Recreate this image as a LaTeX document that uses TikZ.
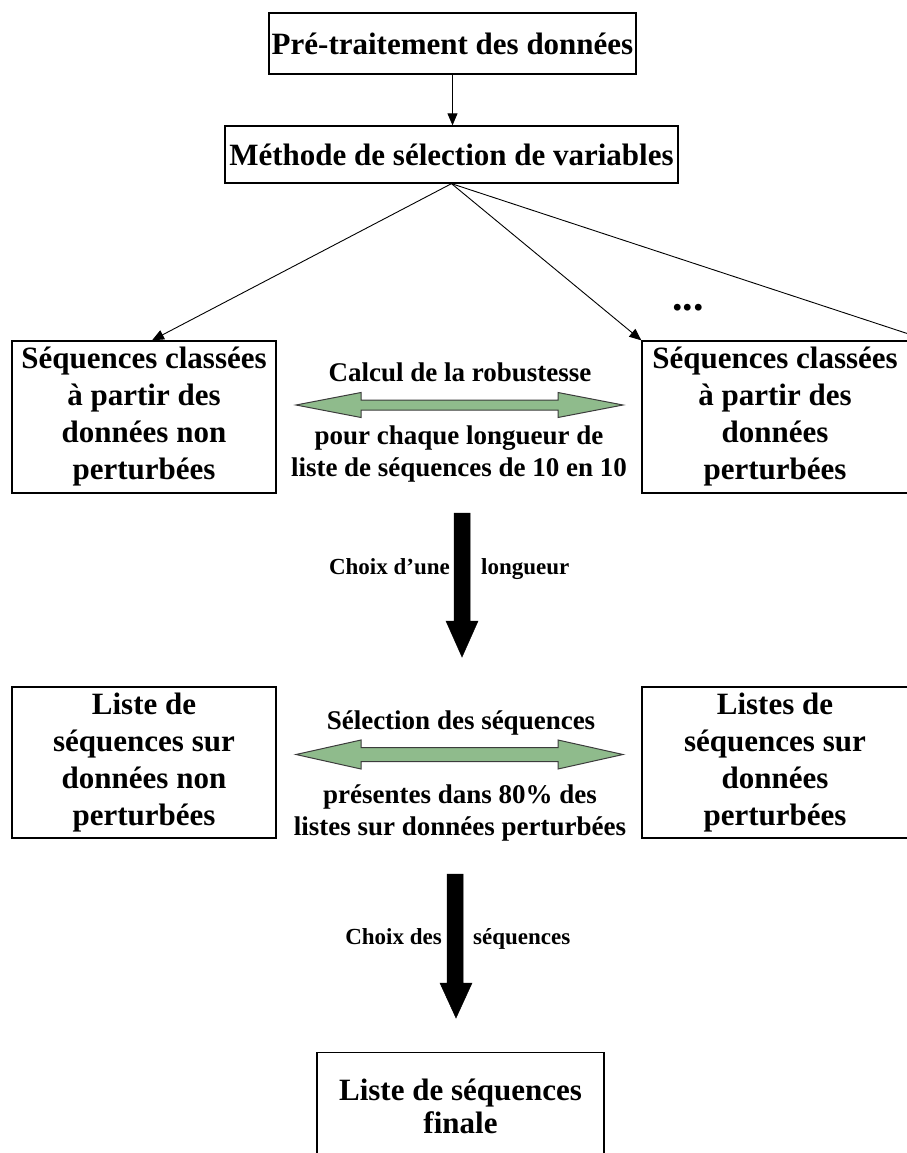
\documentclass[tikz,border=0pt]{standalone}
\usepackage{fontspec}
\setmainfont{Liberation Serif}
\usetikzlibrary{arrows.meta}
\definecolor{arrowgreen}{RGB}{143,187,140}
\definecolor{arrowedge}{RGB}{60,60,60}
\begin{document}
\begin{tikzpicture}[x=1pt,y=-1pt,
  box/.style={draw=black, line width=1.3pt, align=center, inner sep=2pt,
              font=\bfseries\fontsize{31}{37}\selectfont},
  boxtext/.style={align=center, inner sep=0pt, font=\bfseries\fontsize{31}{33}\selectfont},
  lbl/.style={align=center, inner sep=0pt, font=\bfseries\fontsize{27}{32}\selectfont},
  dotlbl/.style={inner sep=0pt, font=\bfseries\fontsize{42}{44}\selectfont},
  smalllbl/.style={inner sep=0pt, font=\bfseries\fontsize{23}{27}\selectfont},
  conn/.style={line width=0.9pt, -{Triangle[length=12pt,width=10pt]}},
  greenarrow/.style={fill=arrowgreen, draw=arrowedge, line width=1pt, line join=miter},
  blockarrow/.style={fill=black, draw=black, line width=0.5pt}]
\useasboundingbox (0,0) rectangle (906,1153);

% top boxes
\node[box, minimum width=367pt, minimum height=61pt] (pre) at (452.5,43.5) {Pré-traitement des données};
\node[box, minimum width=453pt, minimum height=57pt] (meth) at (451.5,154.5) {Méthode de sélection de variables};

% ranked sequences boxes
\node[box, minimum width=264pt, minimum height=152pt] (ul) at (144,417)
  {Séquences classées\\à partir des\\données non\\perturbées};
\node[box, minimum width=266pt, minimum height=152pt] (ur) at (775,417)
  {Séquences classées\\à partir des\\données\\perturbées};
\coordinate (offr) at (930,341);

% lists boxes
\node[box, minimum width=264pt, minimum height=151pt] (ll) at (144,762.5)
  {Liste de\\séquences sur\\données non\\perturbées};
\node[box, minimum width=266pt, minimum height=151pt] (lr) at (775,762.5)
  {Listes de\\séquences sur\\données\\perturbées};

% final box
\node[draw=black, line width=1.3pt, minimum width=287pt, minimum height=130pt, anchor=north, inner sep=0pt] (fin) at (460.5,1052) {};
\node[boxtext] (fintext) at (460.5,1106) {Liste de séquences\\finale};

% connectors
\draw[conn] (pre.south) -- (pre.south |- meth.north);
\draw[conn] (meth.south) -- ([xshift=8pt]ul.north);
\draw[conn] (meth.south) -- (ur.north west);
\draw[conn] (meth.south) -- (offr);
\node[dotlbl, anchor=base] (dots) at (688,310) {...};

% green double arrows
\draw[greenarrow] (296,405) -- (361,392.5) -- (361,400) -- (558,400) -- (558,392.5) -- (623,405)
  -- (558,417.5) -- (558,410) -- (361,410) -- (361,417.5) -- cycle;
\node[lbl] (calc) at (460,372) {Calcul de la robustesse};
\node[lbl] (pour) at (459,454) {pour chaque longueur de\\liste de séquences de 10 en 10};

\draw[greenarrow] (296,754.5) -- (361,740) -- (361,747.5) -- (558,747.5) -- (558,740) -- (623,754.5)
  -- (558,769) -- (558,761.5) -- (361,761.5) -- (361,769) -- cycle;
\node[lbl] (sel) at (461,723) {Sélection des séquences};
\node[lbl] (pres) at (460,813) {présentes dans 80\% des\\listes sur données perturbées};

% black block arrows
\draw[blockarrow] (454,513) -- (470,513) -- (470,621) -- (478,621) -- (462,657) -- (446,621) -- (454,621) -- cycle;
\node[smalllbl, anchor=base east] (ch1) at (450,574) {Choix d’une};
\node[smalllbl, anchor=base west] (lg) at (481,574) {longueur};

\draw[blockarrow] (447,874) -- (463,874) -- (463,983) -- (472,983) -- (456,1018) -- (440,983) -- (447,983) -- cycle;
\node[smalllbl, anchor=base east] (ch2) at (442,944) {Choix des};
\node[smalllbl, anchor=base west] (sq) at (473,944) {séquences};
\end{tikzpicture}
\end{document}
